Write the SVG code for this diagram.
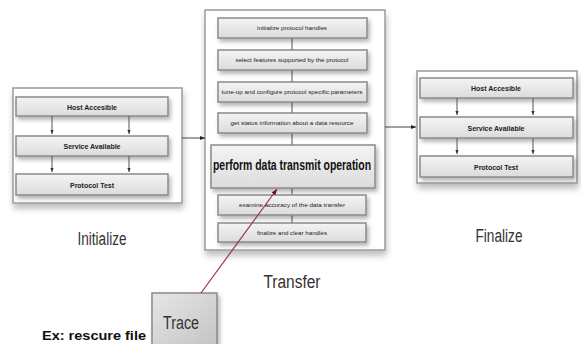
<svg xmlns="http://www.w3.org/2000/svg" width="581" height="344" viewBox="0 0 581 344">
  <defs>
    <linearGradient id="stepFill" x1="0" y1="0" x2="0" y2="1">
      <stop offset="0" stop-color="#f4f4f4"/>
      <stop offset="1" stop-color="#dcdcdc"/>
    </linearGradient>
    <linearGradient id="traceFill" x1="0" y1="0" x2="1" y2="1">
      <stop offset="0" stop-color="#e6e6e6"/>
      <stop offset="1" stop-color="#c4c4c4"/>
    </linearGradient>
    <filter id="shadow" x="-10%" y="-20%" width="125%" height="160%">
      <feDropShadow dx="2" dy="3" stdDeviation="2" flood-color="#000" flood-opacity="0.3"/>
    </filter>
    <filter id="panelShadow" x="-10%" y="-10%" width="125%" height="130%">
      <feDropShadow dx="1" dy="5" stdDeviation="3" flood-color="#000" flood-opacity="0.25"/>
    </filter>
    <marker id="tip" viewBox="0 0 10 10" refX="10" refY="5" markerWidth="5" markerHeight="5" orient="auto">
      <path d="M0,1 L10,5 L0,9 z" fill="#222"/>
    </marker>
    <marker id="tinyTip" viewBox="0 0 10 10" refX="10" refY="5" markerWidth="4" markerHeight="4" orient="auto">
      <path d="M0,1 L10,5 L0,9 z" fill="#333"/>
    </marker>
    <marker id="redTip" viewBox="0 0 10 10" refX="10" refY="5" markerWidth="5" markerHeight="5" orient="auto">
      <path d="M0,1 L10,5 L0,9 z" fill="#6a1030"/>
    </marker>
  </defs>
  <style>
    .panel { fill: #ffffff; stroke: #9a9a9a; stroke-width: 1.5; }
    .step { fill: url(#stepFill); stroke: #8a8a8a; stroke-width: 1.5; }
    .t { font-family: "Liberation Sans Narrow", "Liberation Sans", Arial, sans-serif; fill: #222; text-anchor: middle; }
    .small { font-size: 8px; font-weight: bold; }
    .tiny { font-size: 6px; }
    .big { font-size: 14px; font-weight: bold; fill: #111; }
    .caption { font-size: 18px; fill: #333; }
    .link { stroke: #444; stroke-width: 1; fill: none; }
    .inner { stroke: #555; stroke-width: 1; fill: none; }
  </style>

  <!-- Initialize stage -->
  <g id="initialize">
    <rect class="panel" x="13" y="88" width="169" height="115" filter="url(#panelShadow)"/>
    <rect class="step" x="16" y="97" width="152" height="19" filter="url(#shadow)"/>
    <text class="t small" x="92" y="109.5" textLength="50" lengthAdjust="spacingAndGlyphs">Host Accesible</text>
    <rect class="step" x="16" y="136" width="152" height="20" filter="url(#shadow)"/>
    <text class="t small" x="92" y="149" textLength="57" lengthAdjust="spacingAndGlyphs">Service Available</text>
    <rect class="step" x="16" y="174" width="152" height="21" filter="url(#shadow)"/>
    <text class="t small" x="92" y="187.5" textLength="44" lengthAdjust="spacingAndGlyphs">Protocol Test</text>
    <path class="inner" d="M52,116 V134" marker-end="url(#tinyTip)"/>
    <path class="inner" d="M129,116 V134" marker-end="url(#tinyTip)"/>
    <path class="inner" d="M52,156 V172" marker-end="url(#tinyTip)"/>
    <path class="inner" d="M129,156 V172" marker-end="url(#tinyTip)"/>
    <text class="t caption" x="102" y="245" textLength="49" lengthAdjust="spacingAndGlyphs">Initialize</text>
  </g>

  <!-- Transfer stage -->
  <g id="transfer">
    <rect class="panel" x="205" y="10" width="180" height="240" filter="url(#panelShadow)"/>
    <path class="inner" d="M292,38 V50 M292,70 V82 M292,102 V113 M292,133 V145 M292,188 V195 M292,215 V223"/>
    <rect class="step" x="218" y="18" width="149" height="20" filter="url(#shadow)"/>
    <text class="t tiny" x="292" y="30" textLength="70" lengthAdjust="spacingAndGlyphs">initialize protocol handles</text>
    <rect class="step" x="218" y="50" width="149" height="20" filter="url(#shadow)"/>
    <text class="t tiny" x="292" y="62" textLength="113" lengthAdjust="spacingAndGlyphs">select features supported by the protocol</text>
    <rect class="step" x="218" y="82" width="149" height="20" filter="url(#shadow)"/>
    <text class="t tiny" x="292" y="94" textLength="141" lengthAdjust="spacingAndGlyphs">tune-up and configure protocol specific parameters</text>
    <rect class="step" x="218" y="113" width="149" height="20" filter="url(#shadow)"/>
    <text class="t tiny" x="292" y="125" textLength="123" lengthAdjust="spacingAndGlyphs">get status information about a data resource</text>
    <rect class="step" x="211" y="145" width="164" height="43" filter="url(#shadow)"/>
    <text class="t big" x="292" y="170" textLength="158" lengthAdjust="spacingAndGlyphs">perform data transmit operation</text>
    <rect class="step" x="218" y="195" width="148" height="20" filter="url(#shadow)"/>
    <text class="t tiny" x="292" y="207" textLength="106" lengthAdjust="spacingAndGlyphs">examine accuracy of the data transfer</text>
    <rect class="step" x="218" y="223" width="148" height="19" filter="url(#shadow)"/>
    <text class="t tiny" x="292" y="234.5" textLength="70" lengthAdjust="spacingAndGlyphs">finalize and clear handles</text>
    <text class="t caption" x="292" y="288" textLength="57" lengthAdjust="spacingAndGlyphs">Transfer</text>
  </g>

  <!-- Finalize stage -->
  <g id="finalize">
    <rect class="panel" x="417" y="71" width="160" height="112" filter="url(#panelShadow)"/>
    <rect class="step" x="420" y="78" width="153" height="20" filter="url(#shadow)"/>
    <text class="t small" x="496" y="91" textLength="50" lengthAdjust="spacingAndGlyphs">Host Accesible</text>
    <rect class="step" x="420" y="117" width="153" height="21" filter="url(#shadow)"/>
    <text class="t small" x="496" y="130.5" textLength="57" lengthAdjust="spacingAndGlyphs">Service Available</text>
    <rect class="step" x="420" y="156" width="153" height="21" filter="url(#shadow)"/>
    <text class="t small" x="496" y="169.5" textLength="44" lengthAdjust="spacingAndGlyphs">Protocol Test</text>
    <path class="inner" d="M457,98 V115" marker-end="url(#tinyTip)"/>
    <path class="inner" d="M533,98 V115" marker-end="url(#tinyTip)"/>
    <path class="inner" d="M457,138 V154" marker-end="url(#tinyTip)"/>
    <path class="inner" d="M533,138 V154" marker-end="url(#tinyTip)"/>
    <text class="t caption" x="499" y="242" textLength="47" lengthAdjust="spacingAndGlyphs">Finalize</text>
  </g>

  <!-- Trace tool -->
  <g id="trace">
    <rect x="152" y="293" width="65" height="52" fill="url(#traceFill)" stroke="#8a8a8a" stroke-width="1.5" filter="url(#shadow)"/>
    <text class="t caption" x="181" y="329" textLength="36" lengthAdjust="spacingAndGlyphs">Trace</text>
  </g>

  <g id="example-note">
    <text x="42" y="340" font-family="Liberation Sans, Arial, sans-serif" font-size="12" font-weight="bold" fill="#111" textLength="104" lengthAdjust="spacingAndGlyphs">Ex: rescure file</text>
  </g>

  <!-- Connectors between stages -->
  <g id="connectors">
    <line class="link" x1="182" y1="138" x2="205" y2="138" marker-end="url(#tip)"/>
    <line class="link" x1="385" y1="127" x2="416" y2="127" marker-end="url(#tip)"/>
    <line x1="201" y1="293" x2="277" y2="189" stroke="#a0305a" stroke-width="1.2" marker-end="url(#redTip)"/>
  </g>
</svg>
